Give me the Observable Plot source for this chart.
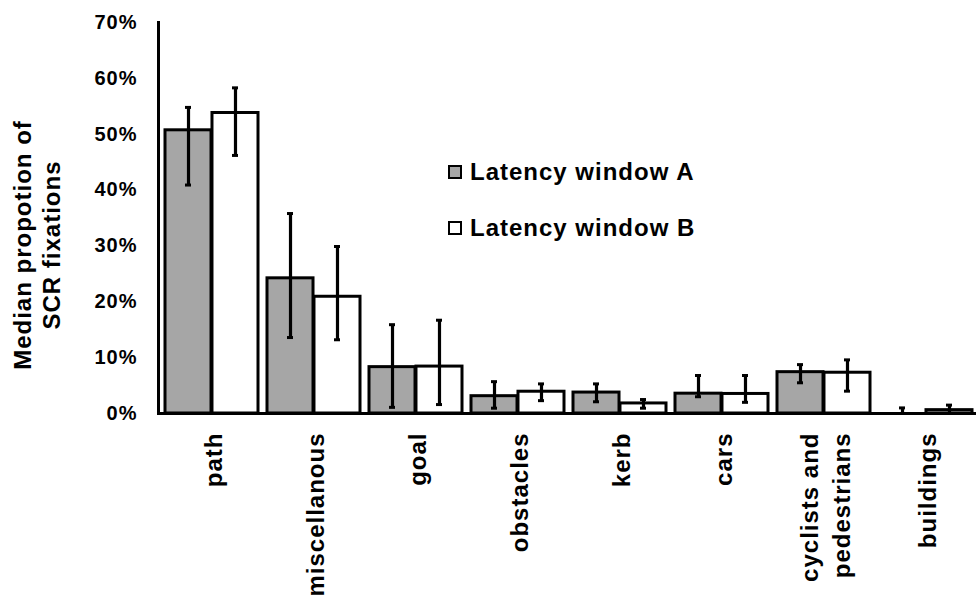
<!DOCTYPE html>
<html>
<head>
<meta charset="utf-8">
<script src="https://cdn.jsdelivr.net/npm/d3@7"></script>
<script src="https://cdn.jsdelivr.net/npm/@observablehq/plot@0.6"></script>
<style>
  body { margin: 0; background: #fff; }
  #chart { position: relative; width: 976px; height: 599px; overflow: hidden; }
  #chart svg text { letter-spacing: 1px; }
  .legend { position: absolute; left: 448px; top: 158px; font: bold 24px "Liberation Sans", Arial, sans-serif; letter-spacing: 1px; color: #000; }
  .legend .item { display: flex; align-items: center; height: 28px; margin-bottom: 28px; white-space: nowrap; }
  .legend .sw { width: 10px; height: 10px; border: 2.5px solid #000; margin-right: 8px; box-sizing: content-box; }
</style>
</head>
<body>
<div id="chart"></div>
<script>
// Fixation categories along the x axis
const categories = ["path", "miscellanous", "goal", "obstacles", "kerb", "cars", "cyclists and pedestrians", "buildings"];
const xLabels = ["path", "miscellanous", "goal", "obstacles", "kerb", "cars", "cyclists and\npedestrians", "buildings"];
const seriesNames = ["Latency window A", "Latency window B"];
const seriesColors = ["#a6a6a6", "#ffffff"];

// Median proportion of SCR fixations and error-bar ends, per latency window
const medianA = [0.507, 0.242, 0.083, 0.031, 0.0375, 0.0355, 0.074, 0.0];
const lowA    = [0.409, 0.136, 0.011, 0.0095, 0.021, 0.030, 0.055, 0.0];
const highA   = [0.548, 0.358, 0.159, 0.057, 0.053, 0.068, 0.0875, 0.010];
const medianB = [0.538, 0.209, 0.084, 0.039, 0.018, 0.035, 0.073, 0.006];
const lowB    = [0.462, 0.132, 0.016, 0.023, 0.0095, 0.020, 0.040, 0.0];
const highB   = [0.583, 0.299, 0.167, 0.053, 0.025, 0.068, 0.096, 0.015];

const yTicks = [0, 0.1, 0.2, 0.3, 0.4, 0.5, 0.6, 0.7];
const yTitle = "Median propotion of\nSCR fixations";

const rows = (values, low, high) =>
  categories.map((c, i) => ({category: c, value: values[i], low: low[i], high: high[i]}));
const rowsA = rows(medianA, lowA, highA);
const rowsB = rows(medianB, lowB, highB);

// Band geometry: two bars share each category band
const width = 976, height = 599;
const marginLeft = 158, marginTop = 22, marginBottom = 186;
const xRange = [marginLeft, 979.6];
const paddingInner = 0.085, paddingOuter = paddingInner / 2;
const step = (xRange[1] - xRange[0]) / (categories.length - paddingInner + 2 * paddingOuter);
const bw = step * (1 - paddingInner);
const half = bw / 2;
const cap = 7;

const errorMarks = (data, side) => {
  const center = side === 0 ? half / 2 : half + half / 2;
  const tickOpts = {x: "category", insetLeft: center - cap / 2, insetRight: bw - center - cap / 2, stroke: "#000", strokeWidth: 3};
  return [
    Plot.ruleX(data, {x: "category", y1: "low", y2: "high", dx: center - bw / 2, stroke: "#000", strokeWidth: 3.2}),
    Plot.tickY(data, {...tickOpts, y: "high"}),
    Plot.tickY(data, {...tickOpts, y: "low"})
  ];
};

const chart = Plot.plot({
  width, height,
  marginLeft, marginTop, marginBottom, marginRight: 0,
  style: {fontFamily: "'Liberation Sans', Arial, sans-serif", fontWeight: "bold", fontSize: "20px", color: "#000", background: "#fff"},
  x: {type: "band", domain: categories, range: xRange, paddingInner, paddingOuter, axis: null},
  y: {domain: [0, 0.7], axis: null},
  marks: [
    Plot.barY(rowsA, {x: "category", y: "value", fill: seriesColors[0], stroke: "#000", strokeWidth: 3, insetRight: half}),
    Plot.barY(rowsB, {x: "category", y: "value", fill: seriesColors[1], stroke: "#000", strokeWidth: 3, insetLeft: half}),
    ...errorMarks(rowsA, 0),
    ...errorMarks(rowsB, 1),
    Plot.ruleY([0], {stroke: "#000", strokeWidth: 3}),
    Plot.frame({anchor: "left", stroke: "#000", strokeWidth: 3}),
    Plot.axisY(yTicks, {tickSize: 0, tickPadding: 21, tickFormat: d => Math.round(d * 100) + "%", fontSize: 20, fontWeight: "bold"}),
    Plot.text(categories, {x: d => d, text: (d, i) => xLabels[i], frameAnchor: "bottom", dy: 19, rotate: -90, textAnchor: "end", lineAnchor: "middle", lineHeight: 1.33, fontSize: 24, fontWeight: "bold", fill: "#000"}),
    Plot.text([yTitle], {frameAnchor: "left", dx: -122, dy: 27, rotate: -90, textAnchor: "middle", lineAnchor: "middle", lineHeight: 1.2, fontSize: 24, fontWeight: "bold", fill: "#000"})
  ]
});

const container = document.getElementById("chart");
container.appendChild(chart);

// Legend placed inside the plot area
const legend = document.createElement("div");
legend.className = "legend";
seriesNames.forEach((name, i) => {
  const item = document.createElement("div");
  item.className = "item";
  const sw = document.createElement("span");
  sw.className = "sw";
  sw.style.background = seriesColors[i];
  const label = document.createElement("span");
  label.textContent = name;
  item.append(sw, label);
  legend.appendChild(item);
});
container.appendChild(legend);
</script>
</body>
</html>
